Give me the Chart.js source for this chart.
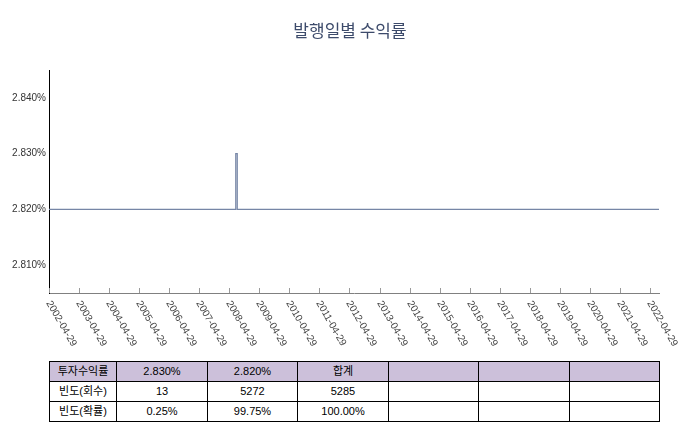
<!DOCTYPE html>
<html>
<head>
<meta charset="utf-8">
<script src="https://cdn.jsdelivr.net/npm/chart.js@4/dist/chart.umd.min.js"></script>
<style>
  html, body { margin: 0; padding: 0; background: #fff; }
  #wrap { position: relative; width: 700px; height: 444px; overflow: hidden; }
  #chartBox { position: absolute; left: 0; top: 0; width: 700px; height: 350px; }
  table.stats {
    position: absolute; left: 49px; top: 361px;
    border-collapse: collapse; table-layout: fixed; width: 610px;
    font-family: "Liberation Sans", Arial, "Noto Sans CJK KR", sans-serif;
    font-size: 11px; color: #000;
  }
  table.stats td {
    border: 1px solid #000; height: 19px; padding: 0; text-align: center;
    line-height: 19px; white-space: nowrap; overflow: hidden;
  }
  table.stats tr.head td { background: #ccc0da; }
</style>
</head>
<body>
<div id="wrap">
  <div id="chartBox"><canvas id="c" width="700" height="350"></canvas></div>
  <table class="stats" id="stats">
    <colgroup>
      <col style="width:67px"><col style="width:91px"><col style="width:90px"><col style="width:91px">
      <col style="width:90px"><col style="width:91px"><col style="width:90px">
    </colgroup>
  </table>
</div>
<script>
// ---- data ----
const chartTitle = '발행일별 수익률';
const tickLabels = ['2002-04-29','2003-04-29','2004-04-29','2005-04-29','2006-04-29','2007-04-29',
  '2008-04-29','2009-04-29','2010-04-29','2011-04-29','2012-04-29','2013-04-29','2014-04-29',
  '2015-04-29','2016-04-29','2017-04-29','2018-04-29','2019-04-29','2020-04-29','2021-04-29','2022-04-29'];
// years since 2002-04-29 where the return level changes
const pointYears   = [0,    6.215, 6.215, 6.265, 6.265, 20.3];
const pointReturns = [2.82, 2.82,  2.83,  2.83,  2.82,  2.82];
const yTicks = [2.81, 2.82, 2.83, 2.84];
const yMin = 2.805, yMax = 2.845;
const xMax = 20.3;

const rowHeader = ['투자수익률', '2.830%', '2.820%', '합계', '', '', ''];
const rowCount  = ['빈도(회수)', '13', '5272', '5285', '', '', ''];
const rowProb   = ['빈도(확률)', '0.25%', '99.75%', '100.00%', '', '', ''];

// ---- table ----
const tbl = document.getElementById('stats');
[[rowHeader, 'head'], [rowCount, ''], [rowProb, '']].forEach(([row, cls]) => {
  const tr = document.createElement('tr');
  if (cls) tr.className = cls;
  row.forEach(v => { const td = document.createElement('td'); td.textContent = v; tr.appendChild(td); });
  tbl.appendChild(tr);
});

// ---- chart ----
const xLabelPlugin = {
  id: 'xLabels',
  afterDraw(chart) {
    const xs = chart.scales.x, ctx = chart.ctx, bottom = chart.chartArea.bottom;
    ctx.save();
    ctx.strokeStyle = '#9a9a9a';
    ctx.lineWidth = 1;
    tickLabels.forEach((lab, i) => {
      const px = Math.round(xs.getPixelForValue(i)) + 0.5;
      ctx.beginPath(); ctx.moveTo(px, bottom - 5); ctx.lineTo(px, bottom); ctx.stroke();
      ctx.save();
      ctx.translate(px - 1, bottom + 8.5);
      ctx.rotate(Math.PI / 3);
      ctx.fillStyle = '#444';
      ctx.font = '10px "Liberation Sans", Arial, sans-serif';
      ctx.textAlign = 'left';
      ctx.textBaseline = 'middle';
      ctx.fillText(lab, 0, 0);
      ctx.restore();
    });
    ctx.restore();
  }
};

new Chart(document.getElementById('c'), {
  type: 'line',
  data: {
    datasets: [{
      data: pointYears.map((x, i) => ({ x: x, y: pointReturns[i] })),
      borderColor: '#7686a6',
      borderWidth: 1.2,
      pointRadius: 0,
      tension: 0,
      fill: false
    }]
  },
  options: {
    responsive: false,
    animation: false,
    layout: { padding: { left: 0, right: 0, top: 0, bottom: 0 } },
    plugins: {
      legend: { display: false },
      tooltip: { enabled: false },
      title: {
        display: true,
        text: chartTitle,
        color: '#3d4b6b',
        font: { family: '"Noto Sans CJK KR", sans-serif', size: 17, weight: 'normal' },
        padding: { top: 20, bottom: 29.6 }
      }
    },
    scales: {
      x: {
        type: 'linear',
        min: 0, max: xMax,
        ticks: { display: false },
        grid: { display: false, drawTicks: false },
        border: { display: true, color: '#808080', width: 1 },
        afterBuildTicks: s => { s.ticks = tickLabels.map((l, i) => ({ value: i })); },
        afterFit: s => { s.height = 57; }
      },
      y: {
        min: yMin, max: yMax,
        afterBuildTicks: s => { s.ticks = yTicks.map(v => ({ value: v })); },
        afterFit: s => { s.width = 49; },
        ticks: {
          padding: 3,
          color: '#333',
          font: { family: '"Liberation Sans", Arial, sans-serif', size: 10 },
          callback: v => Number(v).toFixed(3) + '%'
        },
        grid: { display: false, drawTicks: false },
        border: { display: true, color: '#000', width: 1 }
      },
      yRight: {
        position: 'right',
        min: yMin, max: yMax,
        afterFit: s => { s.width = 41; },
        ticks: { display: false },
        grid: { display: false, drawTicks: false },
        border: { display: false }
      }
    }
  },
  plugins: [xLabelPlugin]
});
</script>
</body>
</html>
